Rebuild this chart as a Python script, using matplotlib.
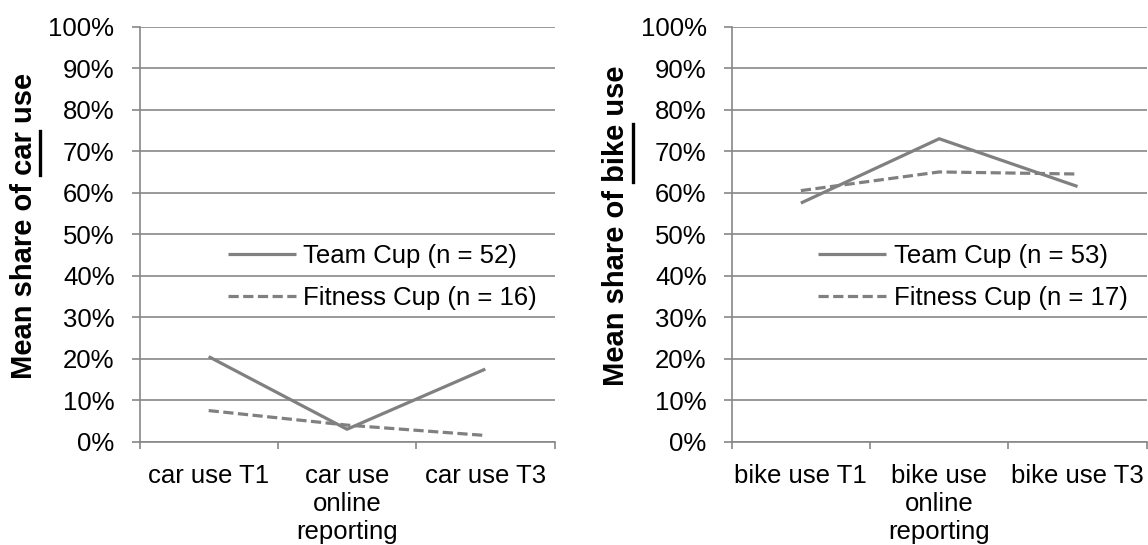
import matplotlib
matplotlib.use("Agg")
import matplotlib.pyplot as plt
from matplotlib.ticker import FixedLocator, PercentFormatter
from matplotlib.lines import Line2D
from matplotlib.transforms import IdentityTransform

plt.rcParams['font.family'] = ['Liberation Sans', 'DejaVu Sans']

# ---- data ----
car_categories = ["car use T1", "car use\nonline\nreporting", "car use T3"]
bike_categories = ["bike use T1", "bike use\nonline\nreporting", "bike use T3"]
car_team = [20.5, 3.0, 17.5]
car_fitness = [7.5, 4.0, 1.5]
bike_team = [57.5, 73.0, 61.5]
bike_fitness = [60.5, 65.0, 64.5]
car_labels = ["Team Cup (n = 52)", "Fitness Cup (n = 16)"]
bike_labels = ["Team Cup (n = 53)", "Fitness Cup (n = 17)"]
car_ylabel = ("Mean share of ", "car", " use")
bike_ylabel = ("Mean share of ", "bike", " use")

GRID = "#878787"
LINE = "#808080"
FS = 18.5
YFS = 21

fig = plt.figure(figsize=(11.48, 5.45), dpi=100)
ax1 = fig.add_axes([139.5 / 1148, 1 - 441.7 / 545, 415 / 1148, 415 / 545])
ax2 = fig.add_axes([731.7 / 1148, 1 - 441.7 / 545, 415 / 1148, 415 / 545])


def draw(ax, cats, team, fit, labels, ylabel, leg_x):
    xs = [i + 0.5 for i in range(len(cats))]
    ax.plot(xs, team, color=LINE, lw=2.3, solid_capstyle='butt', label=labels[0], zorder=3)
    ax.plot(xs, fit, color=LINE, lw=2.3, dashes=(3.2, 1.4), label=labels[1], zorder=3)
    ax.set_xlim(0, len(cats))
    ax.set_ylim(0, 100)
    ax.yaxis.set_major_locator(FixedLocator(list(range(0, 101, 10))))
    ax.yaxis.set_major_formatter(PercentFormatter(decimals=0))
    ax.xaxis.set_major_locator(FixedLocator(list(range(len(cats) + 1))))
    ax.xaxis.set_major_formatter(plt.NullFormatter())
    ax.xaxis.set_minor_locator(FixedLocator(xs))
    ax.set_xticklabels(cats, minor=True)
    ax.tick_params(axis='x', which='minor', length=0, pad=16, labelsize=FS)
    ax.tick_params(axis='x', which='major', length=5, width=1.2, color=GRID, direction='out')
    ax.tick_params(axis='y', length=6, width=1.2, color=GRID, direction='out', labelsize=FS, pad=12)
    ax.grid(axis='y', color=GRID, lw=1.2, zorder=0)
    ax.set_axisbelow(True)
    for s in ['top', 'right']:
        ax.spines[s].set_visible(False)
    for s in ['left', 'bottom']:
        ax.spines[s].set_color(GRID)
        ax.spines[s].set_linewidth(1.2)
    ax.set_ylabel("".join(ylabel), fontsize=YFS, fontweight='bold')
    ax.yaxis.set_label_coords(-0.245, 0.52)
    ax.legend(loc='center right', bbox_to_anchor=(leg_x, 0.396), frameon=False,
              fontsize=FS, handlelength=2.65, handletextpad=0.3, labelspacing=0.7,
              borderaxespad=0, borderpad=0)


draw(ax1, car_categories, car_team, car_fitness, car_labels, car_ylabel, 0.958)
draw(ax2, bike_categories, bike_team, bike_fitness, bike_labels, bike_ylabel, 0.955)

# underline the key word in each y label
fig.canvas.draw()
renderer = fig.canvas.get_renderer()
for ax, parts in ((ax1, car_ylabel), (ax2, bike_ylabel)):
    lab = ax.yaxis.label
    prop = lab.get_fontproperties()
    bb = lab.get_window_extent(renderer)
    w_pre, _, _ = renderer.get_text_width_height_descent(parts[0], prop, ismath=False)
    w_word, _, _ = renderer.get_text_width_height_descent(parts[1], prop, ismath=False)
    _, _, d = renderer.get_text_width_height_descent("".join(parts), prop, ismath=False)
    xline = bb.x1 - d + 2.5
    y0 = bb.y0 + w_pre
    fig.add_artist(Line2D([xline, xline], [y0, y0 + w_word], color='black', lw=2.4,
                          transform=IdentityTransform()))

fig.savefig("out.png", dpi=100)
